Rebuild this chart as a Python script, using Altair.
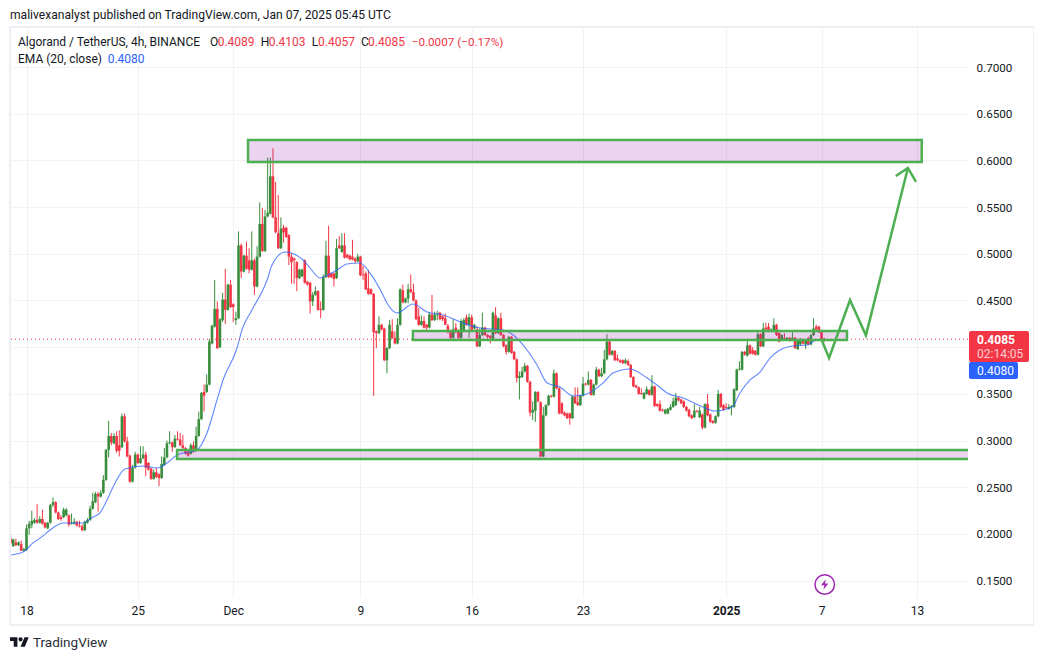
import altair as alt
import pandas as pd

opens = [.195,.187,.191,.188,.189,.182,.183,.206,.210,.212,.215,.212,.216,.212,.206,.212,.231,.234,.223,.218,.218,
.220,.220,.211,.211,.213,.209,.208,.204,.212,.215,.227,.234,.243,.240,.244,.258,.290,.305,.297,.305,
.295,.293,.326,.299,.284,.256,.271,.285,.276,.281,.285,.276,.270,.259,.266,.264,.260,.274,.282,.297,
.298,.293,.302,.301,.295,.292,.288,.286,.295,.289,.305,.323,.352,.352,
.360,.404,.422,.441,.400,.429,.451,.440,.467,.446,.429,.431,.509,.481,.498,.493,.483,.493,.465,.497,
.532,.503,.540,.543,.583,.539,.522,.506,.528,.528,.520,.497,.495,.491,.474,.476,.493,.470,.469,.449,
.456,.460,.441,.440,.475,.498,.479,.479,.474,.509,.502,.509,.499,.498,.497,.495,.492,.497,.478,.479,
.463,.462,
.457,.417,.415,.424,.420,.386,.399,.417,.410,.404,.424,.461,.448,.452,.462,.459,.450,.433,.424,.428,
.424,.421,.435,.429,.435,.437,.433,.431,.423,.416,.410,.421,.418,.410,.417,.432,.424,.432,.420,.419,
.401,.413,.421,.413,.412,.408,.434,.415,.431,.413,.402,.395,.411,.395,.387,.367,.368,.374,.380,.363,
.330,.332,.352,.341,.283,.327,.338,.348,.347,.372,.356,.340,.330,.329,.329,.324,.347,.341,.338,.348,
.361,.360,.365,.349,.360,.376,.369,.372,.387,.406,.392,.396,.388,.386,
.386,.383,.385,.381,.368,.359,.357,.351,.345,.350,.354,.349,.358,.339,.339,.333,.329,.329,.333,.336,
.338,.346,.344,.342,.336,.333,.327,.325,.332,.325,.328,.314,.339,.328,.321,.319,.326,.350,.338,.336,
.334,.336,.336,.354,.376,.376,.395,.391,.402,.397,.396,.392,.414,.401,.421,.422,.417,.417,.424,.415,
.408,.410,.408,.410,.408,.410,.398,.403,.408,.403,.410,.403,.413,.422,.422,.416,.4089]
highs = [.200,.195,.195,.192,.193,.185,.210,.214,.225,.217,.232,.219,.226,.213,.213,.232,.239,.235,.224,.220,.228,
.228,.221,.222,.217,.214,.214,.210,.214,.217,.230,.244,.245,.245,.247,.263,.291,.321,.308,.308,.310,
.311,.329,.329,.304,.285,.274,.288,.286,.294,.294,.288,.277,.271,.269,.271,.265,.283,.292,.300,.310,
.299,.306,.310,.308,.306,.293,.289,.297,.299,.315,.331,.352,.360,.371,
.409,.424,.472,.449,.431,.458,.484,.468,.472,.447,.438,.524,.511,.499,.513,.506,.524,.495,.508,.555,
.549,.547,.603,.603,.613,.577,.563,.539,.531,.529,.521,.501,.496,.492,.484,.484,.494,.471,.470,.459,
.465,.461,.449,.478,.514,.530,.480,.480,.516,.519,.522,.522,.500,.499,.515,.496,.500,.498,.487,.481,
.483,.463,
.458,.418,.433,.425,.421,.400,.429,.430,.417,.431,.463,.467,.453,.468,.478,.468,.451,.442,.434,.433,
.425,.438,.456,.438,.439,.438,.434,.436,.425,.417,.430,.426,.419,.430,.431,.435,.436,.435,.425,.422,
.420,.437,.422,.414,.413,.438,.443,.432,.437,.414,.403,.412,.412,.396,.388,.374,.379,.383,.381,.364,
.342,.353,.353,.342,.336,.339,.349,.349,.376,.373,.357,.341,.331,.330,.330,.348,.357,.357,.349,.368,
.362,.374,.366,.361,.379,.377,.378,.397,.414,.408,.397,.397,.392,.387,
.387,.388,.387,.382,.369,.360,.358,.356,.352,.358,.355,.370,.359,.340,.343,.334,.334,.335,.339,.346,
.351,.347,.345,.343,.337,.334,.328,.339,.333,.336,.329,.340,.350,.329,.322,.327,.354,.351,.339,.340,
.339,.338,.356,.377,.385,.396,.396,.409,.403,.400,.397,.417,.415,.426,.426,.426,.420,.431,.425,.416,
.414,.415,.411,.411,.416,.411,.409,.410,.409,.408,.411,.414,.431,.424,.423,.417,.4103]
lows = [.185,.186,.187,.187,.182,.181,.182,.199,.206,.211,.211,.211,.210,.206,.205,.211,.229,.222,.215,.214,.217,
.219,.208,.210,.210,.208,.207,.203,.203,.211,.214,.226,.233,.224,.239,.243,.257,.282,.295,.296,.287,
.283,.292,.298,.282,.255,.255,.270,.275,.275,.280,.262,.268,.258,.258,.260,.251,.259,.273,.281,.296,
.288,.292,.300,.294,.291,.285,.283,.285,.287,.288,.304,.322,.331,.351,
.359,.403,.421,.398,.399,.427,.425,.439,.442,.427,.424,.430,.474,.480,.483,.479,.482,.456,.464,.496,
.502,.502,.539,.542,.538,.522,.505,.505,.512,.517,.488,.468,.468,.460,.473,.475,.468,.466,.436,.444,
.455,.439,.431,.439,.474,.474,.474,.465,.473,.505,.501,.495,.495,.493,.493,.490,.491,.476,.472,.461,
.456,.456,
.348,.399,.414,.418,.385,.372,.398,.409,.403,.403,.423,.447,.447,.447,.458,.449,.429,.423,.423,.420,
.417,.420,.428,.428,.429,.429,.428,.424,.415,.408,.409,.415,.408,.409,.416,.423,.410,.417,.419,.400,
.400,.412,.412,.408,.404,.407,.414,.414,.412,.400,.392,.394,.393,.386,.362,.344,.367,.373,.362,.326,
.322,.320,.341,.282,.282,.326,.337,.346,.346,.355,.328,.328,.326,.323,.317,.323,.339,.337,.337,.347,
.359,.359,.348,.348,.359,.368,.368,.371,.386,.391,.391,.385,.385,.383,
.382,.382,.380,.367,.357,.356,.349,.349,.344,.349,.348,.348,.336,.336,.331,.331,.328,.328,.332,.335,
.337,.342,.339,.335,.331,.325,.323,.324,.330,.324,.312,.313,.326,.319,.318,.318,.325,.335,.332,.334,
.333,.327,.335,.353,.375,.375,.391,.390,.392,.392,.391,.391,.400,.400,.418,.416,.416,.416,.412,.405,
.407,.407,.407,.406,.407,.398,.397,.402,.403,.398,.402,.402,.412,.418,.415,.407,.4057]
closes = [.190,.194,.188,.191,.182,.184,.206,.211,.214,.215,.212,.216,.211,.207,.212,.231,.234,.223,.216,.216,.226,
.226,.210,.212,.213,.209,.208,.204,.213,.215,.227,.235,.243,.240,.244,.258,.290,.305,.298,.305,.289,
.289,.326,.299,.283,.256,.271,.285,.276,.281,.285,.271,.269,.259,.266,.261,.260,.275,.282,.297,.298,
.293,.302,.301,.295,.292,.286,.284,.295,.288,.305,.323,.351,.348,.360,
.406,.423,.441,.399,.430,.451,.440,.467,.443,.443,.431,.509,.481,.498,.484,.483,.493,.465,.497,.532,
.503,.540,.544,.583,.539,.523,.506,.527,.523,.518,.497,.491,.493,.474,.483,.483,.469,.467,.449,.456,
.460,.440,.440,.475,.498,.475,.475,.473,.506,.506,.509,.496,.496,.494,.494,.492,.497,.477,.477,.462,
.457,.457,
.416,.415,.424,.419,.386,.399,.424,.410,.404,.424,.462,.448,.452,.462,.459,.450,.430,.424,.428,.421,
.421,.435,.429,.435,.436,.430,.430,.424,.416,.410,.419,.416,.410,.428,.429,.424,.432,.418,.424,.401,
.413,.421,.413,.411,.410,.437,.415,.431,.413,.401,.395,.411,.394,.387,.367,.369,.374,.380,.363,.330,
.333,.352,.342,.283,.327,.338,.348,.347,.372,.356,.329,.329,.327,.324,.324,.347,.340,.338,.348,.361,
.360,.365,.349,.360,.376,.369,.372,.387,.406,.392,.396,.386,.386,.384,
.383,.386,.381,.368,.358,.357,.350,.350,.351,.355,.349,.358,.337,.337,.332,.332,.333,.334,.336,.342,
.346,.343,.340,.336,.332,.326,.324,.332,.331,.332,.314,.339,.327,.320,.319,.326,.350,.336,.333,.335,
.336,.337,.355,.376,.377,.395,.392,.402,.393,.393,.392,.414,.401,.420,.419,.417,.419,.424,.413,.406,
.413,.408,.410,.407,.410,.399,.408,.408,.404,.407,.403,.413,.420,.419,.416,.408,.4085]

ema_days = [-1.04,-.22,.41,1.04,1.48,2.30,3.55,4.18,4.62,5.06,5.57,6.19,7.33,8.21,8.84,9.47,10.72,11.35,11.98,12.36,
13.24,13.55,14.18,15.13,15.44,16.26,17.39,17.83,18.46,18.65,19.53,20.16,20.97,21.60,22.36,22.67,23.30,24.31,25.19,26.19,
27.45,28.52,29.97,30.60,31.48,32.11,32.74,33.55,34.37,35.25,36.26,36.89,37.96,39.03,39.65,40.28,41.29,42.55,43.30,44.37,
44.87,45.50,46.13,46.76,47.38,48.20,49.08,49.70,50.22]
ema_vals = [.1775,.1807,.1904,.1979,.2043,.2118,.2118,.2182,.2225,.2364,.2546,.2696,.2728,.2707,.2760,.2846,.2899,.3081,.3435,.3649,
.3991,.4184,.4398,.4719,.4880,.5019,.4934,.4848,.4741,.4752,.4827,.4891,.4901,.4794,.4580,.4473,.4366,.4463,.4377,.4345,
.4259,.4206,.4184,.4131,.3970,.3809,.3617,.3574,.3478,.3499,.3617,.3724,.3767,.3670,.3595,.3510,.3456,.3360,.3317,.3360,
.3510,.3649,.3734,.3884,.3970,.4013,.4024,.4077,.4080]

zone_start = [13.93, 24.30, 9.47]
zone_end = [56.30, 51.60, 61.0]
zone_top = [.6218, .4173, .2899]
zone_bottom = [.5983, .4077, .2803]

path_days = [49.99, 50.47, 51.79, 52.79, 55.43]
path_vals = [.4085, .3884, .4505, .4127, .5919]
head_days = [54.67, 55.43, 55.94]
head_vals = [.5833, .5919, .5769]

tick_days = [0, 7, 13, 21, 28, 35, 44, 50, 56]
tick_names = ["18", "25", "Dec", "9", "16", "23", "2025", "7", "13"]
price_ticks = [.15, .20, .25, .30, .35, .40, .45, .50, .55, .60, .65, .70]

last_price = .4085
marker_day = [50.2]
marker_val = [.1459]

GREEN = "#388e3c"
RED = "#f23645"
BLUE = "#2962ff"
DRAW = "#4caf50"
GRID = "#f1f2f5"
INK = "#131722"
FONT = "Roboto"

n = len(closes)
candles = pd.DataFrame({
    "day": [50.1667 - (n - 1 - i) / 6 for i in range(n)],
    "o": opens, "h": highs, "l": lows, "c": closes,
})
candles["dir"] = ["up" if c >= o else "down" for o, c in zip(opens, closes)]

label_expr = "{" + ",".join(f"'{d}':'{t}'" for d, t in zip(tick_days, tick_names)) + "}[datum.value]"

x_scale = alt.Scale(domain=[-1.038, 59.21], nice=False, zero=False, padding=0)
y_scale = alt.Scale(domain=[.1325, .7418], nice=False, zero=False)
color = alt.Color("dir:N", scale=alt.Scale(domain=["up", "down"], range=[GREEN, RED]), legend=None)

X = alt.X("day:Q", scale=x_scale, title=None, axis=alt.Axis(
    values=tick_days, labelExpr=label_expr, tickSize=0, domain=False, grid=True, gridColor=GRID,
    labelPadding=8, labelFontSize=12, labelFont=FONT, labelColor=INK, labelFlush=False,
    labelFontWeight={"condition": {"test": "datum.value === 44", "value": "bold"}, "value": "normal"}))
Y = alt.Y("h:Q", scale=y_scale, title=None, axis=alt.Axis(
    orient="right", values=price_ticks, tickSize=0, domain=False, grid=True, gridColor=GRID,
    labelExpr="abs(datum.value - 0.4) < 0.001 ? '' : format(datum.value, '.4f')",
    labelPadding=8, labelFontSize=11.7, labelFont=FONT, labelColor=INK))

base = alt.Chart(candles)
wicks = base.mark_rule(strokeWidth=1).encode(x=X, y=Y, y2="l:Q", color=color)
bodies = base.mark_bar(size=2.6, strokeWidth=0).encode(
    x=alt.X("day:Q", scale=x_scale), y=alt.Y("o:Q", scale=y_scale), y2="c:Q", color=color)

ema = alt.Chart(pd.DataFrame({"day": ema_days, "v": ema_vals})).mark_line(
    color=BLUE, strokeWidth=1.1, opacity=.75, interpolate="monotone", clip=True
).encode(x=alt.X("day:Q", scale=x_scale), y=alt.Y("v:Q", scale=y_scale))

price_line = alt.Chart(pd.DataFrame({"v": [last_price]})).mark_rule(
    color=RED, strokeWidth=1, strokeDash=[1, 3]
).encode(y=alt.Y("v:Q", scale=y_scale))

zones_df = pd.DataFrame({"a": zone_start, "b": zone_end, "t": zone_top, "u": zone_bottom})
zones = alt.Chart(zones_df).mark_rect(
    fill="#9c27b0", fillOpacity=.2, stroke=DRAW, strokeWidth=2.5, clip=True
).encode(x=alt.X("a:Q", scale=x_scale), x2="b:Q", y=alt.Y("t:Q", scale=y_scale), y2="u:Q")

arrow = alt.Chart(pd.DataFrame({"day": path_days, "v": path_vals, "k": range(len(path_days))})).mark_line(
    color=DRAW, strokeWidth=2.5
).encode(x=alt.X("day:Q", scale=x_scale), y=alt.Y("v:Q", scale=y_scale), order="k:Q")
head = alt.Chart(pd.DataFrame({"day": head_days, "v": head_vals, "k": range(len(head_days))})).mark_line(
    color=DRAW, strokeWidth=2.5
).encode(x=alt.X("day:Q", scale=x_scale), y=alt.Y("v:Q", scale=y_scale), order="k:Q")

marker_df = pd.DataFrame({"day": marker_day, "v": marker_val})
ring = alt.Chart(marker_df).mark_point(
    shape="circle", size=380, filled=False, color="#9c27b0", strokeWidth=1.5, opacity=1
).encode(x=alt.X("day:Q", scale=x_scale), y=alt.Y("v:Q", scale=y_scale))
bolt = alt.Chart(marker_df).mark_point(
    shape="M0.2 -1 L-0.7 0.15 L-0.05 0.15 L-0.25 1 L0.7 -0.2 L0.05 -0.2 Z",
    size=110, filled=True, color="#9c27b0", opacity=1, strokeWidth=0
).encode(x=alt.X("day:Q", scale=x_scale), y=alt.Y("v:Q", scale=y_scale))

ONE = alt.Data(values=[{"k": 0}])


def box(x1, x2, y1, y2, fill=None, stroke=None, width=0, radius=0):
    kw = {"cornerRadius": radius, "strokeWidth": width}
    kw["fill"] = fill if fill else "transparent"
    if stroke:
        kw["stroke"] = stroke
    return alt.Chart(ONE).mark_rect(**kw).encode(
        x=alt.value(x1), x2=alt.value(x2), y=alt.value(y1), y2=alt.value(y2))


def txt(s, x, y, color=INK, size=12, weight="normal", opacity=1.0):
    return alt.Chart(ONE).mark_text(
        align="left", baseline="middle", font=FONT, fontSize=size, fontWeight=weight,
        color=color, opacity=opacity
    ).encode(x=alt.value(x - 10), y=alt.value(y - 28), text=alt.value(s))


chrome = [
    box(0, 1024, -1, 597, stroke="#eeeff4", width=2),
    txt("malivexanalyst published on TradingView.com, Jan 07, 2025 05:45 UTC", 10, 15, size=12.1),
    txt("Algorand / TetherUS, 4h, BINANCE", 18, 42),
    txt("O", 210, 42), txt("0.4089", 217.7, 42, RED),
    txt("H", 260.7, 42), txt("0.4103", 268.7, 42, RED),
    txt("L", 311.7, 42), txt("0.4057", 318, 42, RED),
    txt("C", 361, 42), txt("0.4085", 368, 42, RED),
    txt("\u22120.0007 (\u22120.17%)", 411.7, 42, RED, size=11.7),
    txt("EMA (20, close)", 18, 59),
    txt("0.4080", 107.7, 59, BLUE),
    box(959, 1019, 303, 334, fill=RED, radius=2),
    box(959, 1008, 334, 351, fill=BLUE, radius=2),
    txt("0.4085", 977, 339.5, "#ffffff", weight="bold"),
    txt("02:14:05", 977, 354, "#ffffff", opacity=.75),
    txt("0.4080", 977, 370.5, "#ffffff"),
    alt.Chart(ONE).mark_point(
        shape="M-1 -.5 H-.22 V.5 H-.61 V-.11 H-1 Z M-.11 -.28 A.22 .22 0 1 0 .33 -.28 A.22 .22 0 1 0 -.11 -.28 Z M.53 -.5 H.97 L.56 .5 H.11 Z",
        size=361, filled=True, color=INK, opacity=1, strokeWidth=0
    ).encode(x=alt.value(9.5), y=alt.value(614)),
    txt("TradingView", 33, 642.5, "#2a2e39", size=13.5),
]

chart = alt.layer(wicks, bodies, ema, price_line, zones, arrow, head, ring, bolt, *chrome).properties(
    width=958, height=569,
    autosize=alt.AutoSizeParams(type="none"),
    padding={"left": 2, "top": 20, "right": 66, "bottom": 53},
    background="white",
).configure_view(stroke=None)

chart.save("out.html", embed_options={"renderer": "svg", "actions": False})
